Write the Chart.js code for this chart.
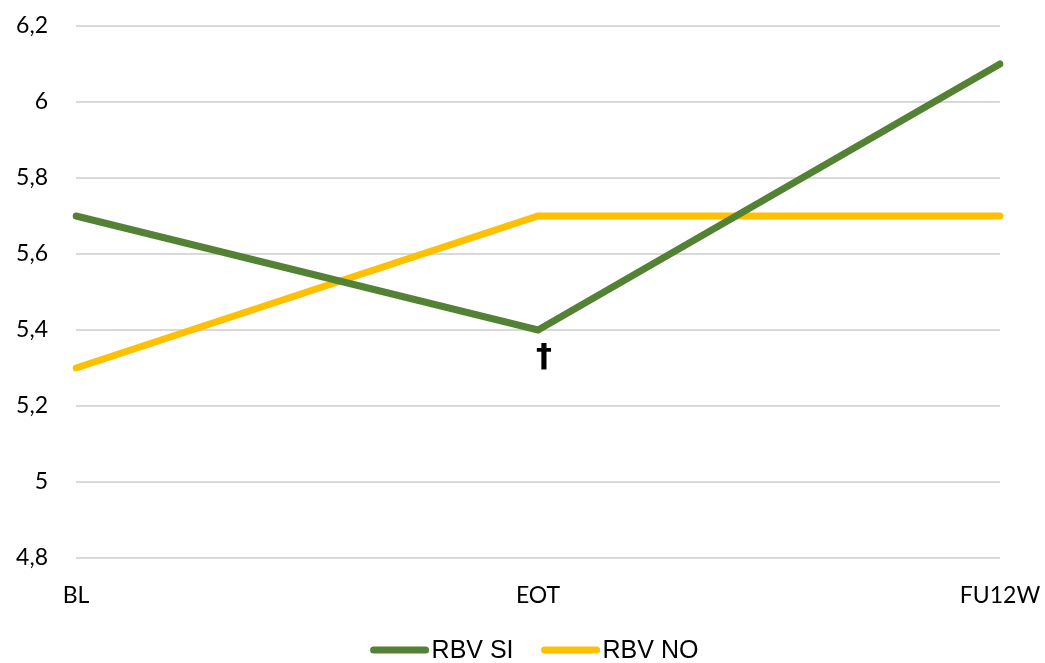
<!DOCTYPE html>
<html>
<head>
<meta charset="utf-8">
<script src="https://cdn.jsdelivr.net/npm/chart.js@4"></script>
<style>
  html, body { margin: 0; padding: 0; background: #fff; }
  #wrap { width: 1045px; height: 663px; }
</style>
</head>
<body>
<div id="wrap"><canvas id="myChart" width="1045" height="663"></canvas></div>
<script>
const categories = ['BL', 'EOT', 'FU12W'];
const rbvSi = [5.7, 5.4, 6.1];
const rbvNo = [5.3, 5.7, 5.7];
const yTicks = [4.8, 5, 5.2, 5.4, 5.6, 5.8, 6, 6.2];
// marker drawn under a point of the first series
const markLabel = '†';
const markIndex = 1;

const daggerPlugin = {
	id: 'dagger',
	afterDatasetsDraw(chart) {
		const ctx = chart.ctx;
		const x = chart.scales.x.getPixelForValue(markIndex);
		const y = chart.scales.y.getPixelForValue(rbvSi[markIndex]);
		ctx.save();
		ctx.fillStyle = '#000';
		ctx.font = 'bold 32px "DejaVu Sans"';
		ctx.textAlign = 'center';
		ctx.textBaseline = 'middle';
		ctx.fillText(markLabel, x + 6, y + 28);
		ctx.restore();
	}
};

// legend drawn by hand: line, then label right next to it
const lineLegend = {
	id: 'lineLegend',
	afterDraw(chart) {
		const ctx = chart.ctx;
		const lineW = 58, gap = 3, itemGap = 28;
		ctx.save();
		ctx.font = '25px "Liberation Sans"';
		ctx.textBaseline = 'middle';
		let items = chart.data.datasets.map(ds => ({
			label: ds.label,
			color: ds.borderColor,
			w: lineW + gap + ctx.measureText(ds.label).width
		}));
		let total = items.reduce((s, it) => s + it.w, 0) + itemGap * (items.length - 1);
		let x = (chart.width - total) / 2 + 12;
		const y = chart.height - 13;
		items.forEach(it => {
			ctx.strokeStyle = it.color;
			ctx.lineWidth = 7;
			ctx.lineCap = 'round';
			ctx.beginPath();
			ctx.moveTo(x + 3, y);
			ctx.lineTo(x + lineW - 3, y);
			ctx.stroke();
			ctx.fillStyle = '#000';
			ctx.fillText(it.label, x + lineW + gap, y + 1);
			x += it.w + itemGap;
		});
		ctx.restore();
	}
};

const ctx = document.getElementById('myChart').getContext('2d');
const myChart = new Chart(ctx, {
	type: 'line',
	data: {
		labels: categories,
		datasets: [{
			label: 'RBV SI',
			data: rbvSi,
			borderColor: '#548235',
			backgroundColor: '#548235',
			borderWidth: 7,
			borderCapStyle: 'round',
			pointRadius: 0,
			tension: 0
		}, {
			label: 'RBV NO',
			data: rbvNo,
			borderColor: '#FFC000',
			backgroundColor: '#FFC000',
			borderWidth: 7,
			borderCapStyle: 'round',
			pointRadius: 0,
			tension: 0
		}]
	},
	options: {
		responsive: false,
		animation: false,
		layout: { padding: { top: 26, right: 45, left: 0, bottom: 53 } },
		plugins: {
			legend: { display: false },
			tooltip: { enabled: false }
		},
		scales: {
			x: {
				offset: false,
				grid: { display: false },
				border: { display: false },
				afterFit(axis) {
					axis.height = 52;
					axis.paddingLeft = 0;
					axis.paddingRight = 0;
				},
				ticks: {
					color: '#000',
					padding: 16,
					maxRotation: 0,
					font: { family: 'Lato', size: 23 }
				}
			},
			y: {
				min: 4.8,
				max: 6.2,
				afterBuildTicks(axis) {
					axis.ticks = yTicks.map(v => ({ value: v }));
				},
				afterFit(axis) {
					axis.width = 76;
					axis.paddingTop = 0;
					axis.paddingBottom = 0;
				},
				grid: { color: '#d9d9d9', lineWidth: 2, drawTicks: false },
				border: { display: false },
				ticks: {
					color: '#000',
					padding: 28,
					font: { family: 'Lato', size: 23 },
					callback: v => String(Math.round(v * 10) / 10).replace('.', ',')
				}
			}
		}
	},
	plugins: [daggerPlugin, lineLegend]
});
</script>
</body>
</html>
